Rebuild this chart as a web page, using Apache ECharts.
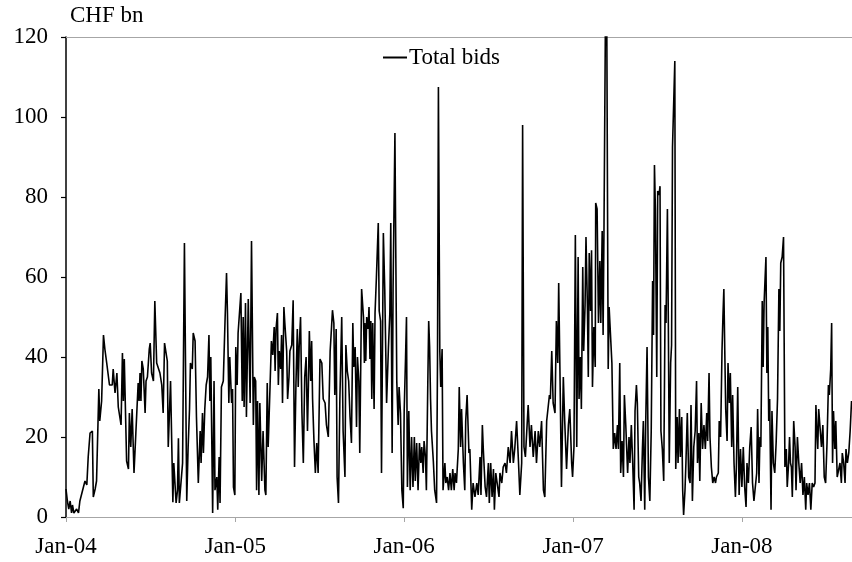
<!DOCTYPE html>
<html>
<head>
<meta charset="utf-8">
<script src="https://cdn.jsdelivr.net/npm/echarts@6/dist/echarts.min.js"></script>
<style>
  html, body { margin: 0; padding: 0; background: #fff; }
  #main { width: 852px; height: 562px; }
</style>
</head>
<body>
<div id="main"></div>
<script>
// days counted from 1 Jan 2004, value in CHF bn
const bids2004 = [[0,7],[3,4],[6,2],[9,4],[12,1],[14,3],[17,1],[20,1],[23,2],[27,1],[30,4],[34,4],[41,9],[45,8],[48,15],[52,21],[57,21.5],[59,5],[63,7],[66,9],[71,32],[73,24],[77,29],[81,45.5],[84,42],[88,38.5],[94,33],[97,33],[100,33],[102,37],[106,31],[110,36],[113,27.5],[119,23],[122,41],[124,29],[126,39.5],[131,14],[135,12],[137,26],[140,17.5],[143,27],[147,11],[151,21],[153,26],[156,33.5],[158,29],[160,36],[162,29],[164,39],[167,37],[171,26],[173,34],[176,35],[180,42],[182,43.5],[185,36],[189,34],[192,54],[196,38.5],[200,39],[203,36],[207,33],[210,26],[213,43.5],
  [219,39],[221,17.5],[226,34],[231,3.7],[233,13.5],[238,3.5],[241,6.7],[243,19.7],[245,3.5],[248,3],[252,13.5],[256,68.5],[259,68.5],[261,4],[264,17.5],[267,27],[269,38.5],[273,37],[275,46],[279,44],[282,25],[286,8.5],[290,21.5],[292,13.5],[295,26],[297,16],[300,27],[303,33],[306,35],[309,45.5],[311,29],[313,40],[317,1],[320,34],[322,6.7],[326,10],[328,1.8],[331,15],[333,3.5],[336,32.5],[340,34],[344,50],[347,61],[349,51],[352,28.5],[354,40],[358,28.5],[360,32],[362,7.5],[365,5.5]];
const bids2005 = [[367,42.5],[370,33],[372,46],[376,46.5],[378,56],[381,29],[383,50],[385,27.5],[388,53.5],[390,25],[394,54.5],[398,28.5],[401,69],[405,23],[407,35],[410,34],[412,6.7],[414,29],[417,5.5],[419,28.5],[423,9],[426,21.5],
  [430,6.7],[432,5.5],[435,33.5],[437,17.5],[441,32.5],[444,44],[447,40.5],[450,47.5],[452,36.5],[454,47],[457,51],[459,33],[461,41.5],[464,37],[466,45.5],[468,28.5],[471,52.5],[473,48.5],[477,41.5],[479,29.5],[482,35],[484,41.5],[488,43],[491,54.2],[494,12.5],[497,33],[500,47],[502,32.5],[504,42.5],[507,50],[510,26],[513,13.5],[516,35],[519,40],[522,21.5],[524,33],[526,46.5],[529,34],[531,44],[533,29.5],[536,19],[539,11],[542,18.5],[545,11],[549,39.5],[553,38.5],[556,29.5],[560,28.5],[563,23],[567,20],[571,41.5],[574,47.5],[576,51.7],[579,48.5],[581,30.5],[584,47],[586,10],[589,3.5],[592,29.5],[596,50],[599,21.5],[603,10],[605,43],[608,36.5],[611,34],[614,25],[617,18.5],[620,48.5],[622,37.5],[625,42.5],[628,22.5],[630,40],[633,34],[635,16],[639,57],[643,50],
  [645,38.5],[646,48.5],[648,39],[650,50],[653,47],[655,52.5],[657,39.5],[659,49],[661,29.5],[663,48.5],[666,27],[668,51],[671,60],[675,73.5],[677,51.5],[680,49],[682,11],[686,71],[689,57],[693,28.5],[697,42.5],[700,51],[702,73.5],[705,16],[707,57],[711,96],[713,64],[715,34],[718,23],[720,32.5],[723,26],[726,6.7],[729,2.2]];
const bids2006 = [[731,26.5],[734,40],[736,50],[738,7.5],[741,26.5],[744,6.7],[747,20],[750,7.5],[753,20],[755,9],[758,18.5],[761,6.7],[764,18.5],[767,13.5],[769,17.5],[772,11],[774,19],[777,15],[779,6.7],[782,33],[784,49],[786,42.5],[788,29.5],[790,21.5],[794,14],[797,6.7],[801,3.5],[803,38.5],[805,107.5],[808,41.5],[810,32.5],[813,42],[815,6.7],[819,13.5],[821,8.5],[824,10],[827,6.7],[830,11],[833,6.7],[836,12],[839,6.7],[841,11],[844,8.5],[848,17],[850,32.5],[853,17.5],[855,27],[859,13.5],[862,6.7],
  [864,24],[867,30.5],[871,16],[873,17],[877,1.8],[880,8.5],[884,5],[888,8.5],[891,5.5],[895,15],[897,5.5],[900,23],[902,17],[906,7.5],[909,5],[913,13.5],[915,3.5],[918,13.5],[921,5],[924,12],[926,1.8],[929,11],[932,8.5],[936,5],[938,11],[942,8.5],[945,12.5],[949,13.5],[952,11],[956,17.5],[960,13.5],[963,21.5],[967,13.5],[970,17],[974,24],[978,14],[981,5.5],[985,13.5],[987,98],[990,17.5],[993,15],[996,21.5],[999,28],[1003,17.5],[1006,23],[1010,15],[1014,21.5],[1017,13.5],[1021,21.5],[1024,17.5],[1028,24],[1032,6.7],[1035,5],[1039,24],[1042,24],[1045,30.5],[1047,29.5],[1050,41.5],[1053,28.5],[1057,26],[1060,49],[1063,38.5],[1065,58.5],[1068,34],[1071,7.5],[1075,35],[1078,24],
  [1082,12],[1086,23],[1089,27],[1093,13.5],[1095,10]];
const bids2007 = [[1098,17.5],[1101,70.5],[1104,17.5],[1107,65],[1109,29.5],[1112,40],[1114,27],[1117,62.5],[1119,41.5],[1122,53],[1124,70],[1127,53],[1129,35],[1131,66],[1134,51.5],[1136,66.7],[1138,32.5],[1141,47.5],[1144,37.5],[1145,78.5],[1148,77],[1151,48.5],[1154,64],[1156,48.5],[1159,71.5],[1161,45.5],[1163,73.5],[1166,124],[1169,122],[1172,37],[1174,52.5],[1177,53],[1180,38.5],[1183,17],[1186,21],[1189,17],[1192,23],[1194,17],[1197,38.5],[1199,11],[1202,19],[1205,10],[1207,30.5],[1210,23],[1214,11],[1217,20],[1219,13.5],[1222,23],[1225,13.5],[1228,1.8],[1230,26.5],[1233,33],[1235,28.5],[1238,10],[1240,8.5],[1243,4],[1246,17],[1248,24],[1251,1.8],[1253,23],[1256,42.5],[1259,10],[1262,4],[1265,21.5],[1268,59],[1270,45.5],[1272,88],[1274,77],[1277,35],[1279,81.5],[1282,80.5],[1284,82.7],[1286,21.5],[1289,17],[1292,9],
  [1295,53],[1297,48.5],[1300,77],[1302,48.5],[1304,13.5],[1307,38.5],[1309,43],[1311,92.5],[1314,93],[1316,114],[1318,12],[1321,25],[1323,13.5],[1326,27],[1328,15],[1331,25],[1333,6.7],[1335,0.5],[1338,6.7],[1340,13.5],[1343,26],[1346,10],[1349,8.5],[1351,28],[1354,4],[1357,17.5],[1360,21.5],[1363,34],[1365,13.5],[1368,21],[1370,9],[1373,28.5],[1376,17],[1379,23],[1382,17],[1385,26],[1387,19],[1390,36],[1392,20],[1395,12.5],[1398,8.5],[1401,10],[1404,8.5],[1406,10],[1410,11],[1412,24],[1415,20],[1418,41.5],[1420,50],[1422,57],[1424,41.5],[1426,27],[1429,19],[1431,38.5],[1434,28.5],[1436,36],[1439,17.5],[1441,30.5],[1444,13.5],[1447,5],[1449,12],[1452,32.5],[1455,5.5],[1458,17]];
const bids2008 = [[1461,7.5],[1464,17.5],[1467,7.5],[1470,2.5],[1472,13.5],[1475,8.5],[1478,17.5],[1481,22.5],[1484,8.5],[1487,4],
  [1493,11],[1495,27],[1498,8.5],[1500,20],[1502,17.5],[1505,54],[1507,37.5],[1509,53.5],[1513,65],[1515,36],[1517,47.5],[1519,24],[1521,29.5],[1524,1.8],[1526,26.5],[1529,13.5],[1532,11],[1535,18.5],[1538,29.5],[1541,57],[1543,46.5],[1545,63.5],[1548,65],[1551,70],[1554,12.5],[1557,17],[1559,7.5],[1562,13.5],[1564,20],[1566,13.5],[1568,12.5],[1570,5],[1573,24],[1576,17.5],[1578,6.7],[1581,20],[1584,13.5],[1587,8.5],[1590,13.5],[1593,5.5],[1596,10],[1599,1.8],[1601,8.5],[1604,5.5],[1607,8.5],[1610,1.8],[1613,8.5],[1616,7.5],[1619,8.5],[1621,28],[1623,21.5],[1625,17],[1627,27],[1630,26.5],[1633,17.5],[1636,23],[1639,10],[1642,8.5],[1645,18.5],[1648,33],[1650,30.5],[1653,37],[1655,48.5],[1657,13.5],[1659,26.5],[1662,17],[1664,24],[1667,10],[1670,10],[1673,13.5],[1676,8.5],[1678,16],[1681,13.5],[1684,8.5],[1686,17],[1689,13.5],[1692,16],[1695,21.5],[1698,29]];

const yearStarts = [0, 366, 731, 1096, 1461];
const tickLabels = ["Jan-04", "Jan-05", "Jan-06", "Jan-07", "Jan-08"];
const lastDay = 1699;

const FONT = "Liberation Serif";
const SIZE = 23;
const totalBids = [].concat(bids2004, bids2005, bids2006, bids2007, bids2008);

let myChart = echarts.init(document.getElementById("main"));
myChart.setOption({
  animation: false,
  grid: { left: 66, right: 0, top: 37, bottom: 45 },
  graphic: [{
    type: "text", left: 70, top: 4,
    style: { text: "CHF bn", font: SIZE + "px " + FONT, fill: "#000" }
  }],
  legend: {
    data: ["Total bids"],
    left: 378, top: 41,
    icon: "rect", itemWidth: 24, itemHeight: 2,
    textStyle: { fontFamily: FONT, fontSize: SIZE, color: "#000", padding: [0, 0, 0, -3] }
  },
  xAxis: [{
    type: "value", min: 0, max: lastDay,
    axisLine: { lineStyle: { color: "#a6a6a6", width: 1 } },
    axisTick: { customValues: yearStarts, length: 5, lineStyle: { color: "#a6a6a6" } },
    axisLabel: {
      customValues: yearStarts,
      formatter: (v) => tickLabels[yearStarts.indexOf(v)] || "",
      fontFamily: FONT, fontSize: SIZE, color: "#000", margin: 18
    },
    splitLine: { show: false }
  }, {
    type: "value", position: "top", min: 0, max: lastDay,
    axisLine: { show: true, lineStyle: { color: "#a6a6a6", width: 1 } },
    axisTick: { show: false }, axisLabel: { show: false }, splitLine: { show: false }
  }],
  yAxis: {
    type: "value", min: 0, max: 120, interval: 20,
    axisLine: { show: true, lineStyle: { color: "#000", width: 1.5 } },
    axisTick: { show: true, length: 5, lineStyle: { color: "#000", width: 1.2 } },
    axisLabel: { fontFamily: FONT, fontSize: SIZE, color: "#000", margin: 18 },
    splitLine: { show: false }
  },
  series: [{
    name: "Total bids",
    type: "line",
    data: totalBids,
    showSymbol: false,
    clip: true,
    itemStyle: { color: "#000" },
    lineStyle: { color: "#000", width: 1.6 }
  }]
});
</script>
</body>
</html>
